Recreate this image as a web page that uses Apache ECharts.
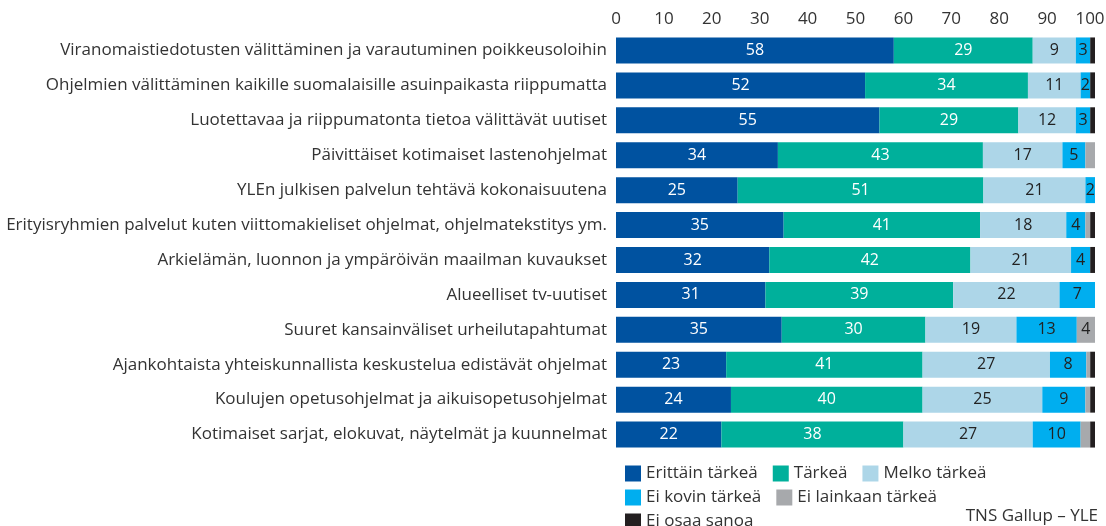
<!DOCTYPE html>
<html>
<head>
<meta charset="utf-8">
<script src="https://cdn.jsdelivr.net/npm/echarts@6/dist/echarts.min.js"></script>
<style>
  html, body { margin: 0; padding: 0; background: #fff; }
  #chart { width: 1106px; height: 526px; }
</style>
</head>
<body>
<div id="chart"></div>
<script>
const categories = [
  'Viranomaistiedotusten välittäminen ja varautuminen poikkeusoloihin',
  'Ohjelmien välittäminen kaikille suomalaisille asuinpaikasta riippumatta',
  'Luotettavaa ja riippumatonta tietoa välittävät uutiset',
  'Päivittäiset kotimaiset lastenohjelmat',
  'YLEn julkisen palvelun tehtävä kokonaisuutena',
  'Erityisryhmien palvelut kuten viittomakieliset ohjelmat, ohjelmatekstitys ym.',
  'Arkielämän, luonnon ja ympäröivän maailman kuvaukset',
  'Alueelliset tv-uutiset',
  'Suuret kansainväliset urheilutapahtumat',
  'Ajankohtaista yhteiskunnallista keskustelua edistävät ohjelmat',
  'Koulujen opetusohjelmat ja aikuisopetusohjelmat',
  'Kotimaiset sarjat, elokuvat, näytelmät ja kuunnelmat'
];

const seriesNames = ['Erittäin tärkeä', 'Tärkeä', 'Melko tärkeä', 'Ei kovin tärkeä', 'Ei lainkaan tärkeä', 'Ei osaa sanoa'];

// shares in % (labels show rounded values)
const erittainTarkea = [58, 52, 55, 33.8, 25.4, 35, 32, 31.2, 34.6, 23, 24, 22];
const tarkea         = [29, 34, 29, 42.8, 51.3, 41, 42, 39.2, 30, 41, 40, 38];
const melkoTarkea    = [9, 11, 12, 16.6, 21.3, 18, 21, 22.2, 19, 26.6, 25, 27];
const eiKovinTarkea  = [3, 2, 3, 4.8, 2, 4, 4, 7.4, 12.6, 7.6, 9, 10];
const eiLainkaan     = [0, 0, 0, 2, 0, 1, 0, 0, 3.8, 0.8, 1, 2];
const eiOsaaSanoa    = [1, 1, 1, 0, 0, 1, 1, 0, 0, 1, 1, 1];

const xTicks = [0, 10, 20, 30, 40, 50, 60, 70, 80, 90, 100];

const colors = ['#0052a0', '#00b09b', '#add6e8', '#00aeef', '#a7a9ac', '#231f20'];
const labelColors = ['#ffffff', '#ffffff', '#222222', '#222222', '#222222', '#222222'];
const minLabel = [1, 1, 1, 1, 3, 999];

const font = '"Open Sans", "Noto Sans", sans-serif';
const chart = echarts.init(document.getElementById('chart'));

const values = [erittainTarkea, tarkea, melkoTarkea, eiKovinTarkea, eiLainkaan, eiOsaaSanoa];

const series = seriesNames.map((name, i) => ({
  name,
  type: 'bar',
  stack: 'total',
  barWidth: 26,
  clip: true,
  itemStyle: { color: colors[i] },
  label: {
    show: true,
    position: 'inside',
    color: labelColors[i],
    fontFamily: font,
    fontSize: 16,
    formatter: (p) => {
      const v = Math.round(p.value);
      return v >= minLabel[i] ? String(v) : '';
    }
  },
  data: values[i]
}));

const legendBase = {
  orient: 'horizontal',
  icon: 'rect',
  itemWidth: 16,
  itemHeight: 16,
  itemGap: 15,
  left: 620,
  textStyle: { color: '#333', fontSize: 17, fontFamily: font },
  selectedMode: false
};

chart.setOption({
  animation: false,
  grid: { left: 616, right: 11, top: 33, height: 419, outerBoundsMode: 'none' },
  xAxis: {
    type: 'value',
    position: 'top',
    min: 0,
    max: 100,
    interval: 10,
    axisLine: { show: false },
    axisTick: { show: false },
    splitLine: { show: false },
    axisLabel: {
      color: '#333',
      fontSize: 17,
      fontFamily: font,
      margin: 5,
      formatter: (v) => {
        if (!xTicks.includes(v)) return '';
        return v === 100 ? '{last|100}' : String(v);
      },
      rich: {
        last: { padding: [0, 10, 0, 0], color: '#333', fontSize: 17, fontFamily: font }
      }
    }
  },
  yAxis: {
    type: 'category',
    inverse: true,
    data: categories,
    axisLine: { show: false },
    axisTick: { show: false },
    axisLabel: { color: '#333', fontSize: 17, fontFamily: font, margin: 9 }
  },
  legend: [
    Object.assign({}, legendBase, { top: 460, data: seriesNames.slice(0, 3) }),
    Object.assign({}, legendBase, { top: 484, data: seriesNames.slice(3, 5) }),
    Object.assign({}, legendBase, { top: 508, data: seriesNames.slice(5) })
  ],
  graphic: [{
    type: 'text',
    right: 8,
    top: 508,
    style: { text: 'TNS Gallup – YLE', fill: '#333', font: '17px ' + font }
  }],
  series
});

window.addEventListener('resize', () => chart.resize());
</script>
</body>
</html>
